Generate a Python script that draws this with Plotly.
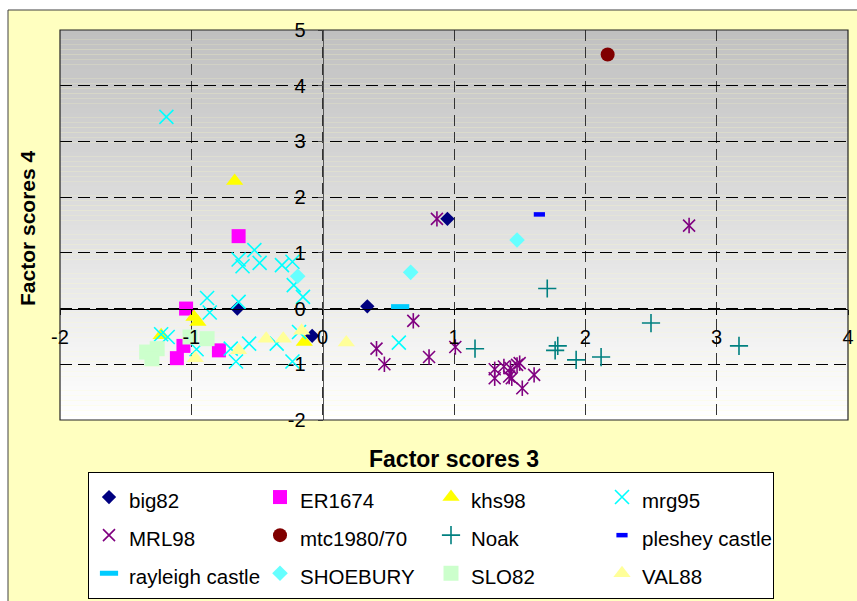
import plotly.graph_objects as go

# ---------------- data (Factor scores 3 = x, Factor scores 4 = y) ----------------
series_names = ["big82", "ER1674", "khs98", "mrg95", "MRL98", "mtc1980/70",
                "Noak", "pleshey castle", "rayleigh castle", "SHOEBURY", "SLO82", "VAL88"]

big82_x = [-0.65, -0.08, 0.34, 0.95]
big82_y = [0.00, -0.49, 0.04, 1.61]

er1674_x = [-0.64, -1.04, -1.06, -1.11, -0.79]
er1674_y = [1.30, 0.00, -0.67, -0.89, -0.75]

khs98_x = [-0.67, -0.98, -0.95, -1.23, -0.14]
khs98_y = [2.29, -0.15, -0.24, -0.48, -0.60]

mrg95_x = [-1.19, -0.52, -0.64, -0.61, -0.48, -0.31, -0.23, -0.22, -0.15, -0.64,
           -0.88, -0.86, -1.23, -1.18, -0.96, -0.70, -0.66, -0.56, -0.35, -0.23,
           -0.18, 0.58]
mrg95_y = [3.44, 1.05, 0.88, 0.76, 0.82, 0.78, 0.84, 0.42, 0.21, 0.12,
           0.19, -0.07, -0.46, -0.51, -0.73, -0.72, -0.95, -0.63, -0.63, -0.95,
           -0.42, -0.61]

mrl98_x = [0.87, 2.79, 0.69, 0.41, 0.47, 0.81, 1.01,
           1.31, 1.31, 1.38, 1.43, 1.42, 1.44, 1.48, 1.50, 1.52, 1.61]
mrl98_y = [1.61, 1.49, -0.22, -0.72, -1.00, -0.87, -0.69,
           -1.09, -1.25, -1.04, -1.07, -1.22, -1.25, -1.01, -0.98, -1.43, -1.19]

mtc_x = [2.17]
mtc_y = [4.56]

noak_x = [1.71, 1.16, 1.79, 1.77, 1.93, 2.12, 2.50, 3.17]
noak_y = [0.36, -0.72, -0.67, -0.75, -0.92, -0.87, -0.26, -0.67]

pleshey_x = [1.65]
pleshey_y = [1.69]

rayleigh_x = [0.59]
rayleigh_y = [0.03]

shoebury_x = [-0.19, 0.67, 1.48]
shoebury_y = [0.58, 0.65, 1.23]

slo82_x = [-1.34, -1.26, -1.30, -1.01, -0.88]
slo82_y = [-0.78, -0.72, -0.90, -0.51, -0.54]

val88_x = [-0.97, -0.64, -0.43, -0.30, -0.16, 0.18]
val88_y = [-0.89, -0.75, -0.54, -0.54, -0.40, -0.61]

x_ticks = [-2, -1, 0, 1, 2, 3, 4]
y_ticks = [-2, -1, 0, 1, 2, 3, 4, 5]
x_title = "Factor scores 3"
y_title = "Factor scores 4"

# ---------------- styling ----------------
FONT = "Liberation Sans, Arial, sans-serif"
W, H = 857, 601
ML, MR, MT, MB = 60, 9, 30, 181
PW, PH = W - ML - MR, H - MT - MB


def px_x(p):
    return (p - ML) / PW


def px_y(p):
    return (H - MB - p) / PH


def lname(n):
    return '<span style="font-size:20.5px">' + n + '</span>'


styles = [
    dict(symbol="diamond", size=11, color="#000080"),
    dict(symbol="square", size=14, color="#ff00ff"),
    dict(symbol="triangle-up", size=15, color="#ffff00"),
    dict(symbol="x-thin-open", size=14, color="#00ffff", line=dict(color="#00ffff", width=1.6)),
    dict(symbol="x-thin-open", size=12, color="#800080", line=dict(color="#800080", width=1.6)),
    dict(symbol="circle", size=14, color="#800000"),
    dict(symbol="cross-thin-open", size=13, color="#008080", line=dict(color="#008080", width=1.6)),
    dict(symbol="line-ew-open", size=8, color="#0000ff", line=dict(color="#0000ff", width=4.5)),
    dict(symbol="line-ew-open", size=13, color="#00ccff", line=dict(color="#00ccff", width=5.5)),
    dict(symbol="diamond", size=12, color="#66ffff"),
    dict(symbol="square", size=15, color="#ccffcc"),
    dict(symbol="triangle-up", size=15, color="#ffff99"),
]

xs = [big82_x, er1674_x, khs98_x, mrg95_x, mrl98_x, mtc_x, noak_x, pleshey_x,
      rayleigh_x, shoebury_x, slo82_x, val88_x]
ys = [big82_y, er1674_y, khs98_y, mrg95_y, mrl98_y, mtc_y, noak_y, pleshey_y,
      rayleigh_y, shoebury_y, slo82_y, val88_y]

fig = go.Figure()
for name, x, y, st in zip(series_names, xs, ys, styles):
    fig.add_trace(go.Scatter(x=x, y=y, mode="markers", name=lname(name),
                             legendgroup=name, marker=st, hoverinfo="x+y"))
    if name == "MRL98":
        # vertical stroke to complete the asterisk marker
        fig.add_trace(go.Scatter(x=x, y=y, mode="markers", name=lname(name),
                                 legendgroup=name, showlegend=False,
                                 marker=dict(symbol="line-ns-open", size=11, color="#800080",
                                             line=dict(color="#800080", width=1.6)),
                                 hoverinfo="skip"))

shapes = []
# outer chart frame (light yellow)
shapes.append(dict(type="rect", xref="paper", yref="paper",
                   x0=px_x(8), x1=px_x(W + 20), y0=px_y(H + 20), y1=px_y(10),
                   fillcolor="#ffffc0", line=dict(color="#404040", width=1), layer="below"))
# gradient plot background (grey at top to white at bottom)
n = 80
for i in range(n):
    t = (i + 0.5) / n  # 0 bottom, 1 top
    v = int(round(255 - 63 * t))
    shapes.append(dict(type="rect", xref="x domain", yref="y domain",
                       x0=0, x1=1, y0=i / n, y1=(i + 1) / n,
                       fillcolor=f"rgb({v},{v},{v})", line=dict(width=0), layer="below"))
# plot area border
shapes.append(dict(type="rect", xref="x domain", yref="y domain", x0=0, x1=1, y0=0, y1=1,
                   fillcolor="rgba(0,0,0,0)", line=dict(color="#222222", width=1.2),
                   layer="above"))

fig.update_layout(
    width=W, height=H,
    margin=dict(l=ML, r=MR, t=MT, b=MB, autoexpand=False),
    paper_bgcolor="white",
    plot_bgcolor="rgba(0,0,0,0)",
    font=dict(family=FONT, color="black", size=20),
    shapes=shapes,
    showlegend=True,
    legend=dict(
        orientation="h", x=px_x(88), y=px_y(472), xanchor="left", yanchor="top",
        bgcolor="white", bordercolor="black", borderwidth=1,
        font=dict(family=FONT, size=27, color="black"),
        entrywidth=126, entrywidthmode="pixels",
        traceorder="normal", itemclick=False,
    ),
    annotations=[
        dict(text="<b>" + x_title + "</b>", xref="paper", yref="paper",
             x=0.5, y=px_y(459), xanchor="center", yanchor="middle", showarrow=False,
             font=dict(family=FONT, size=23, color="black")),
        dict(text="<b>" + y_title + "</b>", xref="paper", yref="paper",
             x=px_x(27), y=px_y(228), xanchor="center", yanchor="middle", showarrow=False,
             textangle=-90, font=dict(family=FONT, size=21, color="black")),
    ],
)

fig.update_xaxes(
    range=[-2, 4], tickvals=x_ticks, ticktext=[str(v) for v in x_ticks],
    anchor="free", position=2 / 7,
    showline=True, linecolor="black", linewidth=1,
    ticks="outside", ticklen=5, tickcolor="black",
    ticklabelstandoff=5,
    showgrid=True, gridcolor="#333333", gridwidth=1, griddash="11px,6px",
    zeroline=False, tickfont=dict(family=FONT, size=20, color="black"),
)
fig.update_yaxes(
    range=[-2, 5], tickvals=y_ticks, ticktext=[str(v) for v in y_ticks],
    anchor="free", position=2 / 6,
    showline=True, linecolor="#555555", linewidth=1,
    ticks="outside", ticklen=5, tickcolor="#555555",
    ticklabelstandoff=8,
    showgrid=True, gridcolor="black", gridwidth=1, griddash="12px,6px",
    zeroline=False, tickfont=dict(family=FONT, size=20, color="black"),
)

fig.write_html("out.html")
